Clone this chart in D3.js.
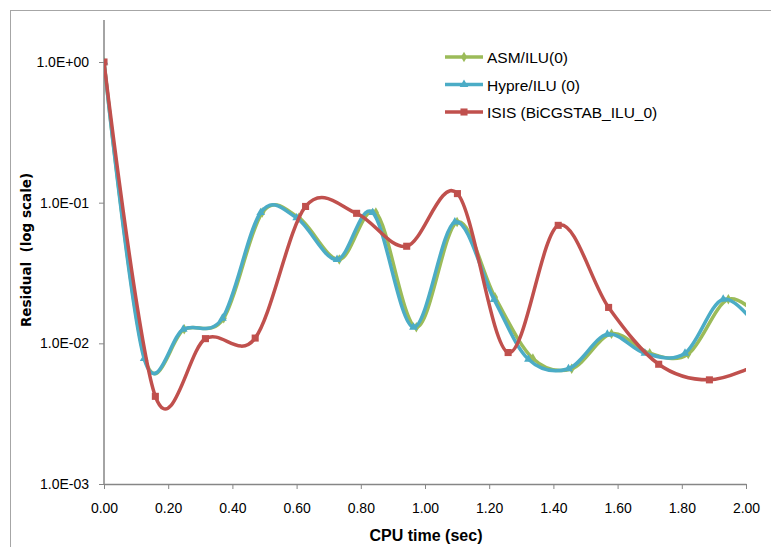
<!DOCTYPE html>
<html lang="en">
<head>
  <meta charset="UTF-8">
  <title>Residual vs CPU time</title>
  <script src="https://d3js.org/d3.v7.min.js"></script>
  <style>
    body { margin: 0; background: #fff; }
    svg { display: block; }
    .tick text { font-family: "Liberation Sans Narrow", "Arial Narrow", sans-serif; font-size: 14px; fill: #000; }
    .axis path, .axis line { stroke: #868686; }
  </style>
</head>
<body>
  <svg width="771" height="547"></svg>

  <script>
    const width = 771, height = 547;

    // series data
    const asmTimes   = [0, 0.127, 0.250, 0.373, 0.493, 0.607, 0.733, 0.847, 0.973, 1.100, 1.218, 1.336, 1.457, 1.581, 1.700, 1.820, 1.945, 2.065];
    const asmVals    = [1.0, 0.0078, 0.0126, 0.0151, 0.085, 0.078, 0.0394, 0.085, 0.0130, 0.0728, 0.0213, 0.0078, 0.0066, 0.0117, 0.0085, 0.0084, 0.0206, 0.0135];
    const hypreTimes = [0, 0.125, 0.247, 0.369, 0.488, 0.600, 0.726, 0.837, 0.964, 1.093, 1.215, 1.322, 1.447, 1.568, 1.685, 1.810, 1.929, 2.050];
    const hypreVals  = [1.0, 0.0078, 0.0126, 0.0151, 0.085, 0.078, 0.0394, 0.085, 0.0130, 0.0728, 0.0205, 0.0077, 0.0066, 0.0116, 0.0085, 0.0085, 0.0206, 0.0118];
    const isisTimes  = [0, 0.160, 0.316, 0.471, 0.628, 0.787, 0.943, 1.101, 1.259, 1.415, 1.572, 1.728, 1.886, 2.043];
    const isisVals   = [1.0, 0.0042, 0.0108, 0.0109, 0.094, 0.084, 0.049, 0.116, 0.0086, 0.069, 0.018, 0.0071, 0.0055, 0.0072];

    const seriesNames = ["ASM/ILU(0)", "Hypre/ILU (0)", "ISIS (BiCGSTAB_ILU_0)"];
    const xTicks = [0, 0.2, 0.4, 0.6, 0.8, 1.0, 1.2, 1.4, 1.6, 1.8, 2.0];
    const yTicks = [1e-3, 1e-2, 1e-1, 1e0];
    const yTickLabels = ["1.0E-03", "1.0E-02", "1.0E-01", "1.0E+00"];

    const series = [
      { name: seriesNames[0], t: asmTimes,   v: asmVals,   color: "#9bbb59", marker: d3.symbolDiamond,  size: 32 },
      { name: seriesNames[1], t: hypreTimes, v: hypreVals, color: "#4bacc6", marker: d3.symbolTriangle, size: 32 },
      { name: seriesNames[2], t: isisTimes,  v: isisVals,  color: "#c0504d", marker: d3.symbolSquare,   size: 50 }
    ];

    const plot = { left: 104, right: 746, top: 20, bottom: 484 };

    const x = d3.scaleLinear().domain([0, 2]).range([plot.left, plot.right]);
    // decade spacing ~140.7px, axis line runs a little above 1.0E+00
    const y = d3.scaleLog().domain([1e-3, 1]).range([plot.bottom, 62]);

    const svg = d3.select("svg");

    // outer chart border (partly visible)
    svg.append("rect")
      .attr("x", 10.5).attr("y", 10.5)
      .attr("width", 900).attr("height", 700)
      .attr("fill", "none").attr("stroke", "#a6a6a6").attr("stroke-width", 1);

    svg.append("clipPath").attr("id", "clip")
      .append("rect")
      .attr("x", plot.left).attr("y", plot.top - 10)
      .attr("width", plot.right - plot.left).attr("height", plot.bottom - plot.top + 10);

    // x axis
    const xAxis = svg.append("g")
      .attr("class", "axis")
      .attr("transform", `translate(0,${plot.bottom})`)
      .call(d3.axisBottom(x).tickValues(xTicks).tickFormat(d3.format(".2f")).tickSizeInner(5).tickSizeOuter(0).tickPadding(14));
    xAxis.select(".domain").attr("stroke-width", 1.5);

    // y axis
    const yAxis = svg.append("g")
      .attr("class", "axis")
      .attr("transform", `translate(${plot.left},0)`)
      .call(d3.axisLeft(y).tickValues(yTicks).tickFormat((d, i) => yTickLabels[i]).tickSizeInner(5).tickSizeOuter(0).tickPadding(10));
    yAxis.select(".domain")
      .attr("d", `M0,${plot.top}V${plot.bottom}`)
      .attr("stroke-width", 1.5);

    // axis titles
    svg.append("text")
      .attr("x", 426).attr("y", 541)
      .attr("text-anchor", "middle")
      .style("font-family", "'Liberation Sans Narrow', 'Arial Narrow', sans-serif")
      .style("font-weight", "bold").style("font-size", "16px")
      .text("CPU time (sec)");

    svg.append("text")
      .attr("transform", "translate(31,250) rotate(-90)")
      .attr("text-anchor", "middle")
      .style("font-family", "'DejaVu Sans', Verdana, sans-serif")
      .style("font-weight", "bold").style("font-size", "13.5px")
      .style("white-space", "pre")
      .text("Residual  (log scale)");

    // lines (Excel-style smoothed)
    const line = d3.line()
      .x(d => x(d[0]))
      .y(d => y(d[1]))
      .curve(d3.curveCatmullRom.alpha(0));

    const g = svg.append("g").attr("clip-path", "url(#clip)");

    series.forEach(s => {
      const pts = s.t.map((t, i) => [t, s.v[i]]);
      g.append("path")
        .datum(pts)
        .attr("fill", "none")
        .attr("stroke", s.color)
        .attr("stroke-width", 3.5)
        .attr("stroke-linejoin", "round")
        .attr("d", line);
      g.selectAll(null)
        .data(pts)
        .join("path")
        .attr("transform", d => `translate(${x(d[0])},${y(d[1])})`)
        .attr("d", d3.symbol().type(s.marker).size(s.size))
        .attr("fill", s.color);
    });

    // legend
    const legend = svg.append("g");
    series.forEach((s, i) => {
      const ly = 57 + i * 27.5;
      legend.append("line")
        .attr("x1", 445).attr("x2", 483).attr("y1", ly).attr("y2", ly)
        .attr("stroke", s.color).attr("stroke-width", 3.5);
      legend.append("path")
        .attr("transform", `translate(464,${ly})`)
        .attr("d", d3.symbol().type(s.marker).size(s.size))
        .attr("fill", s.color);
      legend.append("text")
        .attr("x", 487).attr("y", ly + 6)
        .style("font-family", "'Liberation Sans Narrow', 'Arial Narrow', sans-serif")
        .style("font-size", "15.5px")
        .text(s.name);
    });
  </script>
</body>
</html>
